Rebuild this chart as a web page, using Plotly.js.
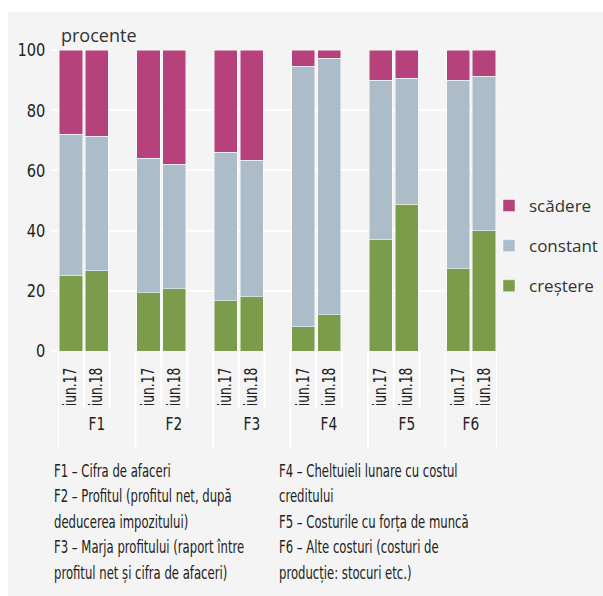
<!DOCTYPE html>
<html>
<head>
<meta charset="utf-8">
<script src="https://cdn.plot.ly/plotly-3.0.1.min.js"></script>
<style>
  html, body { margin:0; padding:0; background:#ffffff; }
  #panel { position:absolute; left:8px; top:12px; right:0; bottom:0; background:#f4f4f4; }
  #chart { position:absolute; left:0; top:0; width:603px; height:596px; }
</style>
</head>
<body>
<div id="panel"></div>
<div id="chart"></div>
<script>
// ---- data ----
const groups = ['F1', 'F2', 'F3', 'F4', 'F5', 'F6'];
const periods = ['iun.17', 'iun.18'];
// values per bar, ordered F1 iun.17, F1 iun.18, F2 iun.17, ...
const crestere = [25.2, 26.6, 19.4, 20.7, 16.7, 18.0, 8.1, 12.1, 37.2, 48.7, 27.3, 39.9];
const constant = [46.8, 44.8, 44.6, 41.4, 49.3, 45.4, 86.5, 85.1, 52.7, 41.9, 62.6, 51.4];
const scadere  = [28.0, 28.6, 36.0, 37.9, 34.0, 36.6, 5.4, 2.8, 10.1, 9.4, 10.1, 8.7];
const seriesNames = ['creștere', 'constant', 'scădere'];
const yTicks = [0, 20, 40, 60, 80, 100];
const unitLabel = 'procente';
const notesLeft = [
  'F1 – Cifra de afaceri',
  'F2 – Profitul (profitul net, după',
  'deducerea impozitului)',
  'F3 – Marja profitului (raport între',
  'profitul net și cifra de afaceri)'
];
const notesRight = [
  'F4 – Cheltuieli lunare cu costul',
  'creditului',
  'F5 – Costurile cu forța de muncă',
  'F6 – Alte costuri (costuri de',
  'producție: stocuri etc.)'
];

// ---- layout helpers ----
const W = 603, H = 596;
const L = 58, R = 106, T = 50, B = 245;
const PW = W - L - R, PH = H - T - B;
const px = x => (x - L) / PW;
const py = y => (H - B - y) / PH;

const condensed = 'DejaVu Sans Condensed, DejaVu Sans, sans-serif';
const regular = 'Open Sans, Noto Sans, sans-serif';

// bar positions: 3 slots per group (2 bars + gap)
const xs = [], tickText = [];
groups.forEach((g, gi) => periods.forEach((p, pi) => { xs.push(gi * 3 + pi); tickText.push(p); }));
const nSlots = groups.length * 3 - 1;

const colors = ['#7b9c4a', '#adbcc9', '#b5427a'];
const seriesData = [crestere, constant, scadere];
const traces = seriesData.map((d, i) => ({
  type: 'bar', x: xs, y: d, name: seriesNames[i], legendgroup: 'g' + i,
  legendrank: 10 - i,
  width: 0.9,
  marker: { color: colors[i], line: { color: 'rgba(255,255,255,0.6)', width: 0.8 } },
  hoverinfo: 'x+y+name'
}));

// separators below axis
const shapes = [];
for (let k = 0; k <= nSlots; k++) {
  const xv = k - 0.5;
  const isGroup = (k % 3 === 0) || k === nSlots;
  shapes.push({
    type: 'line', xref: 'x', yref: 'paper', x0: xv, x1: xv,
    y0: 0, y1: isGroup ? py(448) : py(408),
    line: { color: '#ffffff', width: 2 }, layer: 'above'
  });
}

const annotations = [];
annotations.push({
  xref: 'paper', yref: 'paper', x: px(59), y: py(35), xanchor: 'left', yanchor: 'middle',
  text: unitLabel, showarrow: false, font: { family: regular, size: 18, color: '#333333' }
});
groups.forEach((g, gi) => {
  const start = gi * 3 - 0.5;
  const end = Math.min(start + 3, nSlots - 0.5);
  annotations.push({
    xref: 'x', yref: 'paper', x: (start + end) / 2, y: py(423), xanchor: 'center', yanchor: 'middle',
    text: g, showarrow: false, font: { family: condensed, size: 18, color: '#222222' }
  });
});
const noteY = [470, 495.5, 521, 546.5, 572];
notesLeft.forEach((t, i) => annotations.push({
  xref: 'paper', yref: 'paper', x: px(52), y: py(noteY[i]), xanchor: 'left', yanchor: 'middle', align: 'left',
  text: t, showarrow: false, font: { family: condensed, size: 18, color: '#222222' }
}));
notesRight.forEach((t, i) => annotations.push({
  xref: 'paper', yref: 'paper', x: px(277), y: py(noteY[i]), xanchor: 'left', yanchor: 'middle', align: 'left',
  text: t, showarrow: false, font: { family: condensed, size: 18, color: '#222222' }
}));

const layout = {
  width: W, height: H,
  margin: { l: L, r: R, t: T, b: B, autoexpand: false },
  paper_bgcolor: 'rgba(0,0,0,0)',
  plot_bgcolor: 'rgba(0,0,0,0)',
  barmode: 'stack',
  bargap: 0,
  showlegend: true,
  legend: {
    x: px(489), y: py(188), xanchor: 'left', yanchor: 'top',
    traceorder: 'grouped', tracegroupgap: 15,
    font: { family: regular, size: 17, color: '#333333' },
    bgcolor: 'rgba(0,0,0,0)'
  },
  xaxis: {
    range: [-0.5, nSlots - 0.5],
    tickmode: 'array', tickvals: xs, ticktext: tickText,
    tickangle: -90,
    tickfont: { family: condensed, size: 17, color: '#222222' },
    ticks: 'outside', ticklen: 9, tickcolor: 'rgba(0,0,0,0)',
    showgrid: false, zeroline: false, showline: false, fixedrange: true
  },
  yaxis: {
    range: [0, 100],
    tickmode: 'array', tickvals: yTicks,
    tickfont: { family: condensed, size: 18, color: '#222222' },
    ticks: 'outside', ticklen: 6, tickcolor: '#ffffff', tickwidth: 2,
    ticklabelstandoff: 2,
    showgrid: true, gridcolor: '#ffffff', gridwidth: 2,
    zeroline: false, showline: false, fixedrange: true
  },
  shapes: shapes,
  annotations: annotations
};

// narrow the condensed texts to match the reference's condensed face
function squeeze(el, f) {
  const w = el.getComputedTextLength();
  if (w > 0) {
    el.setAttribute('textLength', (w * f).toFixed(2));
    el.setAttribute('lengthAdjust', 'spacingAndGlyphs');
  }
}
// horizontal scale of a left-anchored text around its own x
function narrow(el, f) {
  const x0 = parseFloat(el.getAttribute('x')) || 0;
  el.setAttribute('transform', 'translate(' + (x0 * (1 - f)).toFixed(2) + ',0) scale(' + f + ',1)');
}

Plotly.newPlot('chart', traces, layout, { displayModeBar: false, staticPlot: true }).then(gd => {
  gd.querySelectorAll('.xtick text').forEach(el => squeeze(el, 0.8));
  gd.querySelectorAll('.ytick text').forEach(el => squeeze(el, 0.9));
  gd.querySelectorAll('g.annotation').forEach(g => {
    const idx = +g.getAttribute('data-index');
    if (idx > 0) {
      const t = g.querySelector('text.annotation-text');
      if (!t) return;
      if (idx <= groups.length) {
        squeeze(t, 0.85);
      } else {
        const f = 0.72;
        narrow(t, f);
        const bg = g.querySelector('rect.bg');
        if (bg) {
          const w = +bg.getAttribute('width');
          bg.setAttribute('width', (w * f).toFixed(2));
        }
      }
    }
  });
});
</script>
</body>
</html>
